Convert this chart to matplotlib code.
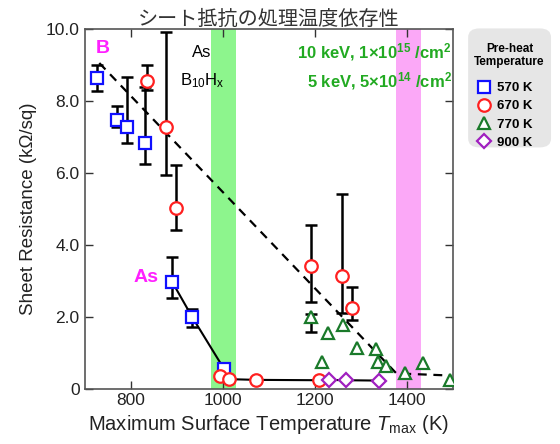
import numpy as np
import matplotlib
matplotlib.use("Agg")
import matplotlib.pyplot as plt
from matplotlib.patches import FancyBboxPatch
from matplotlib.lines import Line2D

plt.rcParams["font.family"] = ["Liberation Sans", "DejaVu Sans"]
plt.rcParams["mathtext.fontset"] = "custom"
plt.rcParams["mathtext.rm"] = "Liberation Sans"
plt.rcParams["mathtext.it"] = "Liberation Sans:italic"
plt.rcParams["mathtext.bf"] = "Liberation Sans:bold"
plt.rcParams["mathtext.default"] = "regular"

# 570 K (blue squares)
t570 = [726, 770, 793, 831, 890, 934, 1003]
r570 = [8.63, 7.46, 7.27, 6.84, 2.97, 1.98, 0.54]
lo570 = [8.26, 7.26, 6.83, 6.23, 2.53, 1.72, np.nan]
hi570 = [8.99, 7.85, 8.66, 8.37, 3.66, 2.20, np.nan]

# 670 K (red circles)
t670 = [836, 876, 899, 993, 1014, 1072, 1209, 1192, 1258, 1281]
r670 = [8.54, 7.27, 5.02, 0.36, 0.26, 0.24, 0.23, 3.40, 3.12, 2.25]
lo670 = [8.29, 5.95, 4.42, np.nan, np.nan, np.nan, np.nan, 2.41, 2.11, 1.90]
hi670 = [9.00, 9.91, 6.21, np.nan, np.nan, np.nan, np.nan, 4.54, 5.42, 2.81]

# 770 K (green triangles)
t770 = [1192, 1228, 1262, 1215, 1291, 1333, 1337, 1355, 1395, 1435, 1494]
r770 = [1.99, 1.55, 1.76, 0.74, 1.13, 1.09, 0.74, 0.63, 0.42, 0.72, 0.24]
lo770 = [1.56] + [np.nan] * 10
hi770 = [2.07] + [np.nan] * 10

# 900 K (purple diamonds)
t900 = [1230, 1267, 1340]
r900 = [0.24, 0.23, 0.22]

# trend lines
as_line_t = [890, 934, 1003, 1014, 1072, 1209, 1230, 1267, 1340]
as_line_r = [2.97, 1.98, 0.54, 0.26, 0.24, 0.23, 0.24, 0.23, 0.22]
b_line_t = [732, 1377, 1495]
b_line_r = [9.05, 0.42, 0.36]

green_band = (975, 1028)
pink_band = (1376, 1431)

fig = plt.figure(figsize=(5.6, 4.44), dpi=100)
ax = fig.add_axes([0.151, 0.125, 0.658, 0.81])

ax.axvspan(*green_band, color="#8df58d", lw=0, zorder=0)
ax.axvspan(*pink_band, color="#fba8f7", lw=0, zorder=0)

ax.plot(as_line_t, as_line_r, color="black", lw=1.5, zorder=2)
ax.plot(b_line_t, b_line_r, color="black", lw=1.6, ls=(0, (4, 3)), zorder=2)


def errbars(t, r, lo, hi):
    t = np.array(t, dtype=float)
    r = np.array(r)
    lo = np.array(lo)
    hi = np.array(hi)
    ok = ~np.isnan(lo)
    ax.errorbar(t[ok], r[ok], yerr=[r[ok] - lo[ok], hi[ok] - r[ok]], fmt="none",
                ecolor="black", elinewidth=1.8, capsize=4, capthick=1.8, zorder=3)


errbars(t570, r570, lo570, hi570)
errbars(t670, r670, lo670, hi670)
errbars(t770, r770, lo770, hi770)

mk = dict(mfc="white", ms=9, mew=1.6, ls="none", zorder=4)
ax.plot(t570, r570, marker="s", mec="#1010ff", ms=8, mfc="white", mew=1.6, ls="none", zorder=4)
ax.plot(t670, r670, marker="o", mec="#ff2020", **mk)
ax.plot(t770, r770, marker="^", mec="#1a7a2a", **mk)
ax.plot(t900, r900, marker="D", mec="#a020c0", mfc="white", ms=7, mew=1.6, ls="none", zorder=4)

ax.set_xlim(700, 1500)
ax.set_ylim(0, 10)
ax.set_xticks([800, 1000, 1200, 1400])
ax.set_yticks([0, 2, 4, 6, 8, 10])
ax.set_yticklabels(["0", "2.0", "4.0", "6.0", "8.0", "10.0"])
ax.tick_params(direction="in", length=6, width=1, top=True, right=True,
               labelsize=12.5, colors="#333333", labelcolor="#222222")
for s in ax.spines.values():
    s.set_color("#555555")
    s.set_linewidth(1.2)

ax.set_xlabel("Maximum Surface Temperature $\\mathit{T}_{max}$ (K)", fontsize=14.5,
              color="#222222", labelpad=3)
ax.set_ylabel("Sheet Resistance (k\u03a9/sq)", fontsize=13.5, color="#222222", labelpad=6)
ax.set_title("シート抵抗の処理温度依存性", fontsize=14.5, color="#333333", pad=3,
             family=["Noto Sans CJK JP", "DejaVu Sans"])

ax.text(740, 9.45, "B", color="#ff20ff", fontsize=14, fontweight="bold", ha="center", va="center")
ax.text(860, 3.1, "As", color="#ff20ff", fontsize=14, fontweight="bold", ha="right", va="center")
ax.text(955, 9.35, "As", color="black", fontsize=12, ha="center", va="center")
ax.text(955, 8.55, "B$_{10}$H$_{x}$", color="black", fontsize=12, ha="center", va="center")
ax.text(1497, 9.35, "10 keV, 1\u00d710$^{\\mathbf{15}}$ /cm$^{\\mathbf{2}}$", color="#22aa22",
        fontsize=12, fontweight="bold", ha="right", va="center")
ax.text(1497, 8.55, "5 keV, 5\u00d710$^{\\mathbf{14}}$ /cm$^{\\mathbf{2}}$", color="#22aa22",
        fontsize=12, fontweight="bold", ha="right", va="center")

# legend box
box = FancyBboxPatch((0.836, 0.668), 0.148, 0.268, boxstyle="round,pad=0,rounding_size=0.02",
                     transform=fig.transFigure, fc="#e6e6e6", ec="none")
fig.patches.append(box)
fig.text(0.91, 0.875, "Pre-heat\nTemperature", ha="center", va="center", fontsize=8.5,
         fontweight="bold", linespacing=1.1)
handles = [
    Line2D([], [], marker="s", mec="#1010ff", mfc="white", ms=8, mew=1.6, ls="none"),
    Line2D([], [], marker="o", mec="#ff2020", mfc="white", ms=9, mew=1.6, ls="none"),
    Line2D([], [], marker="^", mec="#1a7a2a", mfc="white", ms=9, mew=1.6, ls="none"),
    Line2D([], [], marker="D", mec="#a020c0", mfc="white", ms=7, mew=1.6, ls="none"),
]
labels = ["570 K", "670 K", "770 K", "900 K"]
fig.legend(handles, labels, loc="upper left", bbox_to_anchor=(0.84, 0.83), frameon=False,
           prop={"weight": "bold", "size": 9.5}, handlelength=1.0, handletextpad=0.5,
           labelspacing=0.45, borderpad=0)

fig.savefig("out.png", dpi=100)
